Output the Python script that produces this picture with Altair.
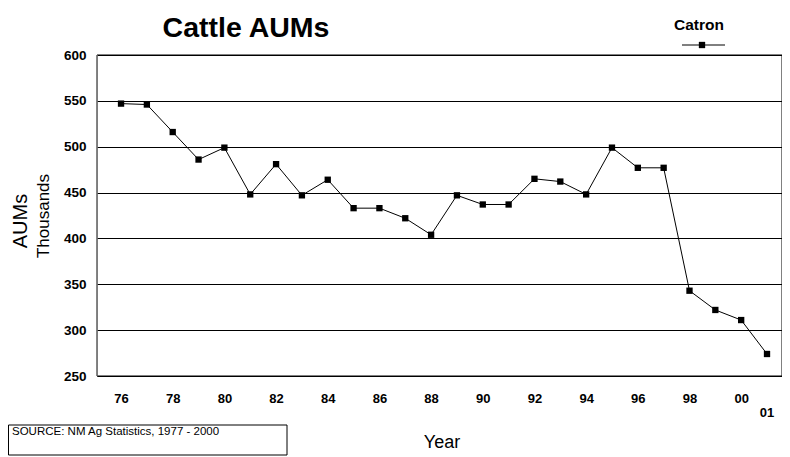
import altair as alt
import pandas as pd

# ---- data ----
years = [76, 77, 78, 79, 80, 81, 82, 83, 84, 85, 86, 87, 88, 89, 90, 91,
         92, 93, 94, 95, 96, 97, 98, 99, 100, 101]
aums = [547, 546, 516, 486, 499, 448, 481, 447, 464, 433, 433, 422, 404, 447,
        437, 437, 465, 462, 448, 499, 477, 477, 343, 322, 311, 274]
tick_values = [76, 78, 80, 82, 84, 86, 88, 90, 92, 94, 96, 98, 100]
tick_labels = ["76", "78", "80", "82", "84", "86", "88", "90", "92", "94", "96", "98", "00"]
extra_tick_value = [101]
extra_tick_label = ["01"]
y_ticks = [250, 300, 350, 400, 450, 500, 550, 600]
series_name = "Catron"
title_text = "Cattle AUMs"
source_text = "SOURCE: NM Ag Statistics, 1977 - 2000"

FONT = "Liberation Sans"
W, H = 685, 321

df = pd.DataFrame({"year": years, "aums": aums})
one = pd.DataFrame({"k": [0]})
extra = pd.DataFrame({"year": extra_tick_value, "label": extra_tick_label})

label_map = "{" + ",".join(f"'{v}':'{l}'" for v, l in zip(tick_values, tick_labels)) + "}"

x_scale = alt.Scale(domain=[75.07, 101.58], nice=False, zero=False)
y_scale = alt.Scale(domain=[250, 600], nice=False, zero=False)

x_axis = alt.Axis(values=tick_values, labelExpr=f"{label_map}[datum.value]",
                  title=None, grid=False, ticks=False, domain=False,
                  labelFont=FONT, labelFontWeight="bold", labelFontSize=13,
                  labelColor="black", labelPadding=16)
y_axis = alt.Axis(values=y_ticks, title=None, grid=True, gridColor="black",
                  gridWidth=1, gridOpacity=1, ticks=False, domain=False,
                  labelFont=FONT, labelFontWeight="bold", labelFontSize=13.5,
                  labelColor="black", labelPadding=11)

frame = alt.Chart(one).mark_rect(fill="transparent", stroke="black", strokeWidth=1).encode(
    x=alt.value(0), x2=alt.value(W), y=alt.value(0), y2=alt.value(H))
frame_left = alt.Chart(one).mark_rule(color="#8a8a8a", strokeWidth=1).encode(
    x=alt.value(0), y=alt.value(0), y2=alt.value(H))

line = alt.Chart(df).mark_line(color="black", strokeWidth=1).encode(
    x=alt.X("year:Q", scale=x_scale, axis=x_axis),
    y=alt.Y("aums:Q", scale=y_scale, axis=y_axis),
)
pts = alt.Chart(df).mark_square(color="black", opacity=1, size=40).encode(
    x=alt.X("year:Q", scale=x_scale),
    y=alt.Y("aums:Q", scale=y_scale),
)
extra_lbl = alt.Chart(extra).mark_text(font=FONT, fontWeight="bold", fontSize=13,
                                       color="black", baseline="middle").encode(
    x=alt.X("year:Q", scale=x_scale),
    y=alt.value(358),
    text="label:N",
)

title = alt.Chart(one).mark_text(text=title_text, font=FONT, fontWeight="bold",
                                 fontSize=28.5, color="black", baseline="alphabetic").encode(
    x=alt.value(149), y=alt.value(-18))

leg_title = alt.Chart(one).mark_text(text=series_name, font=FONT, fontWeight="bold",
                                     fontSize=15.5, color="black", baseline="alphabetic").encode(
    x=alt.value(602), y=alt.value(-25))
leg_line = alt.Chart(one).mark_rule(color="black", strokeWidth=1).encode(
    x=alt.value(585), x2=alt.value(628), y=alt.value(-10))
leg_pt = alt.Chart(one).mark_square(color="black", opacity=1, size=40).encode(
    x=alt.value(605), y=alt.value(-10))

ytitle1 = alt.Chart(one).mark_text(text="AUMs", font=FONT, fontSize=20, angle=270,
                                   color="black", baseline="middle").encode(
    x=alt.value(-76), y=alt.value(166))
ytitle2 = alt.Chart(one).mark_text(text="Thousands", font=FONT, fontSize=17, angle=270,
                                   color="black", baseline="middle").encode(
    x=alt.value(-53), y=alt.value(161))
xtitle = alt.Chart(one).mark_text(text="Year", font=FONT, fontSize=18,
                                  color="black", baseline="middle").encode(
    x=alt.value(345), y=alt.value(388))

src_box = alt.Chart(one).mark_rect(fill="white", stroke="black", strokeWidth=1).encode(
    x=alt.value(-88.5), x2=alt.value(190), y=alt.value(370), y2=alt.value(400))
src_txt = alt.Chart(one).mark_text(text=source_text, font=FONT, fontSize=11.5,
                                   color="black", align="left", baseline="middle").encode(
    x=alt.value(-85), y=alt.value(377))

chart = alt.layer(frame, frame_left, line, pts, extra_lbl, title, leg_title, leg_line, leg_pt,
                  ytitle1, ytitle2, xtitle, src_box, src_txt).properties(
    width=W, height=H,
    autosize=alt.AutoSizeParams(type="none"),
    padding={"left": 89, "top": 47, "right": 0, "bottom": 81},
).configure_view(stroke="black", strokeWidth=1).configure(background="white")

chart.save("out.html", embed_options={"renderer": "svg", "actions": False})
